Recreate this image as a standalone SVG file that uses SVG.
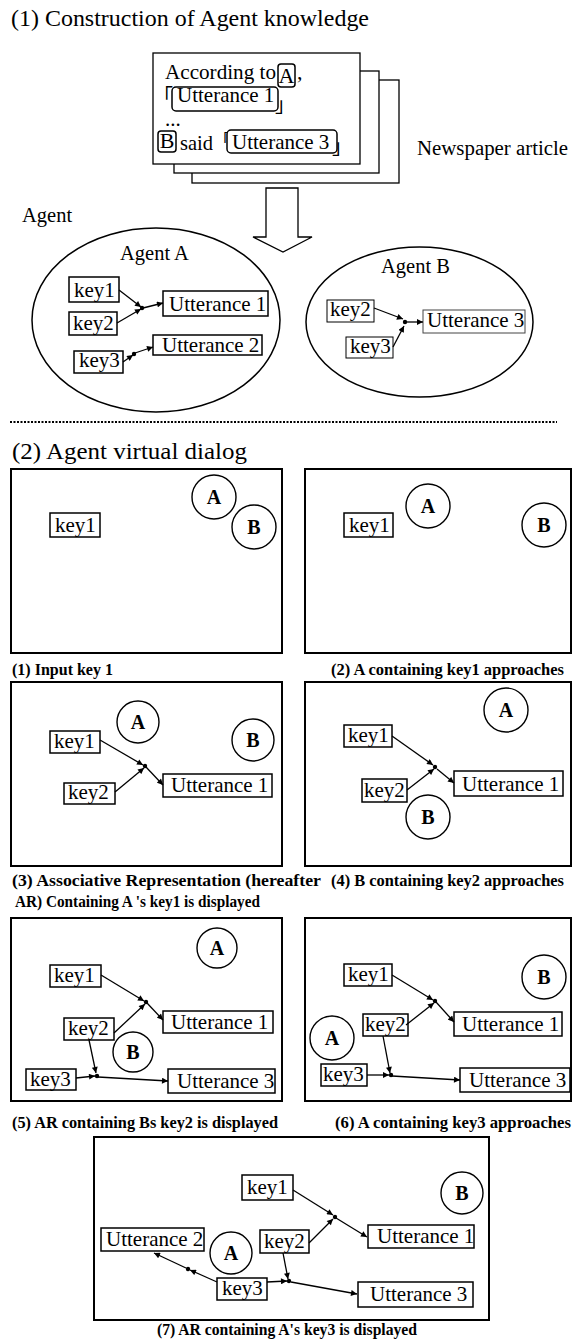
<svg xmlns="http://www.w3.org/2000/svg" width="573" height="1341" viewBox="0 0 573 1341">
<defs>
<marker id="ah" viewBox="0 0 10 10" refX="10" refY="5" markerWidth="7" markerHeight="6" markerUnits="userSpaceOnUse" orient="auto"><path d="M0,0 L10,5 L0,10 z" fill="#000"/></marker>
</defs>
<style>
text{font-family:"Liberation Serif","Times New Roman",serif;fill:#000}
.h{font-size:24px}
.t{font-size:21px}
.s{font-size:22px}
.cap{font-size:17px;font-weight:bold}
.c{font-size:20px;font-weight:bold;text-anchor:middle}
.box{fill:#fff;stroke:#000;stroke-width:1.5}
.pg{fill:#fff;stroke:#000;stroke-width:1.3}
.pan{fill:none;stroke:#000;stroke-width:2}
.cir{fill:#fff;stroke:#000;stroke-width:1.4}
.ell{fill:none;stroke:#000;stroke-width:1.5}
.ln{fill:none;stroke:#000;stroke-width:1.3;marker-end:url(#ah)}
.dot{fill:#000}
.br{font-family:"Noto Sans CJK JP",sans-serif;font-size:20px}
</style>
<rect width="573" height="1341" fill="#fff"/>

<!-- Section 1 -->
<text class="h" x="11" y="26" textLength="358" lengthAdjust="spacingAndGlyphs">(1) Construction of Agent knowledge</text>

<g id="newspaper">
<rect class="pg" x="192" y="80" width="207" height="103"/>
<rect class="pg" x="174" y="71" width="205" height="102"/>
<rect class="pg" x="153" y="53" width="207" height="111"/>
<text class="s" x="165" y="79" textLength="111" lengthAdjust="spacingAndGlyphs">According to</text>
<rect class="box" x="278" y="64" width="17" height="23" rx="3"/>
<text class="s" x="286.5" y="83" text-anchor="middle">A</text>
<text class="s" x="297" y="79">,</text>
<text class="br" x="153" y="104">「</text>
<rect class="box" x="172" y="87" width="106" height="24" rx="4"/>
<text class="t" x="177" y="102">Utterance 1</text>
<text class="br" x="275" y="112">」</text>
<text class="t" x="165" y="126">...</text>
<rect class="box" x="158" y="131" width="18" height="21" rx="3"/>
<text class="s" x="167" y="148" text-anchor="middle">B</text>
<text class="s" x="180" y="150" textLength="33" lengthAdjust="spacingAndGlyphs">said</text>
<text class="br" x="214" y="146" style="font-size:16px">「</text>
<rect class="box" x="227" y="130" width="110" height="23" rx="4"/>
<text class="t" x="232" y="149">Utterance 3</text>
<text class="br" x="332" y="154">」</text>
</g>
<text id="newspaper-label" x="417" y="155" style="font-size:20px" textLength="151" lengthAdjust="spacingAndGlyphs">Newspaper article</text>

<g id="big-arrow">
<polygon points="266,188 298,188 298,237 312,237 283,252 253,237 266,237" fill="#fff" stroke="#000" stroke-width="1.3"/>
</g>

<text id="agent-label" x="22" y="222" style="font-size:20.5px">Agent</text>

<g id="agentA">
<ellipse class="ell" cx="156" cy="320" rx="124" ry="92"/>
<text x="120" y="260" style="font-size:20.5px">Agent A</text>
<g id="A-key1"><rect class="box" x="69" y="277" width="50" height="25"/><text class="t" x="74" y="297">key1</text></g>
<g id="A-key2"><rect class="box" x="69" y="312" width="48" height="23"/><text class="t" x="73" y="330">key2</text></g>
<g id="A-key3"><rect class="box" x="74" y="351" width="49" height="22"/><text class="t" x="79" y="367">key3</text></g>
<g id="A-utt1"><rect class="box" x="163" y="291" width="105" height="25"/><text class="t" x="169" y="311">Utterance 1</text></g>
<g id="A-utt2"><rect class="box" x="153" y="335" width="109" height="20"/><text class="t" x="162" y="352">Utterance 2</text></g>
</g>

<g id="agentB">
<ellipse class="ell" cx="419.5" cy="322" rx="113.5" ry="75"/>
<text x="381" y="273" style="font-size:20.5px">Agent B</text>
<g id="B-key2"><rect class="box" x="327" y="300" width="47" height="22" style="stroke-width:1"/><text class="t" x="330" y="316">key2</text></g>
<g id="B-key3"><rect class="box" x="346" y="337" width="47" height="21" style="stroke-width:1"/><text class="t" x="350" y="353">key3</text></g>
<g id="B-utt3"><rect class="box" x="423" y="310" width="102" height="23" style="stroke-width:1;stroke:#444"/><text class="t" x="427" y="327">Utterance 3</text></g>
</g>

<line x1="10" y1="422" x2="557" y2="422" stroke="#000" stroke-width="2" stroke-dasharray="2,1.5"/>

<!-- Section 2 -->
<text class="h" x="12" y="459" textLength="235" lengthAdjust="spacingAndGlyphs">(2) Agent virtual dialog</text>

<g id="panel1">
<rect class="pan" x="11" y="469" width="271" height="184"/>
<circle class="cir" cx="214" cy="497" r="22"/><text class="c" x="214" y="504">A</text>
<circle class="cir" cx="254" cy="527" r="22"/><text class="c" x="254" y="534">B</text>
<rect class="box" x="50" y="513" width="50" height="24"/><text class="t" x="55" y="532">key1</text>
<text class="cap" x="12" y="675" textLength="101" lengthAdjust="spacingAndGlyphs">(1) Input key 1</text>
</g>

<g id="panel2">
<rect class="pan" x="305" y="469" width="266" height="184"/>
<circle class="cir" cx="428" cy="506" r="22"/><text class="c" x="428" y="513">A</text>
<circle class="cir" cx="544" cy="525" r="22"/><text class="c" x="544" y="532">B</text>
<rect class="box" x="344" y="513" width="49" height="24"/><text class="t" x="349" y="532">key1</text>
<text class="cap" x="331" y="675" textLength="233" lengthAdjust="spacingAndGlyphs">(2) A containing key1 approaches</text>
</g>

<g id="panel3">
<rect class="pan" x="11" y="682" width="271" height="184"/>
<circle class="cir" cx="138" cy="722" r="21"/><text class="c" x="138" y="729">A</text>
<circle class="cir" cx="253" cy="740" r="21"/><text class="c" x="253" y="747">B</text>
<rect class="box" x="50" y="731" width="50" height="22"/><text class="t" x="54" y="748">key1</text>
<rect class="box" x="64" y="783" width="51" height="21"/><text class="t" x="68" y="799">key2</text>
<rect class="box" x="163" y="774" width="109" height="23"/><text class="t" x="171" y="792">Utterance 1</text>
<text class="cap" x="12" y="886" textLength="309" lengthAdjust="spacingAndGlyphs">(3) Associative Representation (hereafter</text>
<text class="cap" x="15" y="907" textLength="245" lengthAdjust="spacingAndGlyphs">AR) Containing A 's key1 is displayed</text>
</g>

<g id="panel4">
<rect class="pan" x="305" y="682" width="266" height="184"/>
<circle class="cir" cx="506" cy="710" r="22"/><text class="c" x="506" y="717">A</text>
<circle class="cir" cx="428" cy="817" r="22"/><text class="c" x="428" y="824">B</text>
<rect class="box" x="344" y="725" width="48" height="22"/><text class="t" x="348" y="742">key1</text>
<rect class="box" x="362" y="779" width="45" height="23"/><text class="t" x="364" y="797">key2</text>
<rect class="box" x="454" y="771" width="109" height="25"/><text class="t" x="462" y="791">Utterance 1</text>
<text class="cap" x="331" y="886" textLength="233" lengthAdjust="spacingAndGlyphs">(4) B containing key2 approaches</text>
</g>

<g id="panel5">
<rect class="pan" x="11" y="918" width="271" height="183"/>
<circle class="cir" cx="217" cy="948" r="20"/><text class="c" x="217" y="955">A</text>
<circle class="cir" cx="133" cy="1052" r="20"/><text class="c" x="133" y="1059">B</text>
<rect class="box" x="50" y="965" width="51" height="22"/><text class="t" x="54" y="982">key1</text>
<rect class="box" x="64" y="1018" width="50" height="22"/><text class="t" x="68" y="1035">key2</text>
<rect class="box" x="163" y="1011" width="110" height="22"/><text class="t" x="171" y="1029">Utterance 1</text>
<rect class="box" x="26" y="1069" width="50" height="21"/><text class="t" x="30" y="1086">key3</text>
<rect class="box" x="168" y="1069" width="107" height="24"/><text class="t" x="177" y="1088">Utterance 3</text>
<text class="cap" x="12" y="1128" textLength="266" lengthAdjust="spacingAndGlyphs">(5) AR containing Bs key2 is displayed</text>
</g>

<g id="panel6">
<rect class="pan" x="305" y="918" width="266" height="183"/>
<circle class="cir" cx="544" cy="977" r="22"/><text class="c" x="544" y="984">B</text>
<circle class="cir" cx="332" cy="1038" r="22"/><text class="c" x="332" y="1045">A</text>
<rect class="box" x="344" y="964" width="48" height="22"/><text class="t" x="348" y="981">key1</text>
<rect class="box" x="363" y="1014" width="45" height="22"/><text class="t" x="365" y="1031">key2</text>
<rect class="box" x="454" y="1012" width="108" height="24"/><text class="t" x="462" y="1031">Utterance 1</text>
<rect class="box" x="321" y="1064" width="46" height="22"/><text class="t" x="323" y="1081">key3</text>
<rect class="box" x="460" y="1068" width="110" height="24"/><text class="t" x="469" y="1087">Utterance 3</text>
<text class="cap" x="335" y="1128" textLength="236" lengthAdjust="spacingAndGlyphs">(6) A containing key3 approaches</text>
</g>

<g id="panel7">
<rect class="pan" x="94" y="1137" width="395" height="183"/>
<circle class="cir" cx="462" cy="1193" r="21"/><text class="c" x="462" y="1200">B</text>
<circle class="cir" cx="231" cy="1253" r="21"/><text class="c" x="231" y="1260">A</text>
<rect class="box" x="242" y="1175" width="51" height="25"/><text class="t" x="247" y="1194">key1</text>
<rect class="box" x="101" y="1228" width="103" height="23"/><text class="t" x="106" y="1246">Utterance 2</text>
<rect class="box" x="260" y="1230" width="49" height="23"/><text class="t" x="264" y="1248">key2</text>
<rect class="box" x="368" y="1225" width="106" height="23"/><text class="t" x="377" y="1243">Utterance 1</text>
<rect class="box" x="217" y="1278" width="50" height="22"/><text class="t" x="222" y="1295">key3</text>
<rect class="box" x="358" y="1282" width="115" height="25"/><text class="t" x="370" y="1301">Utterance 3</text>
<text class="cap" x="157" y="1335" textLength="260" lengthAdjust="spacingAndGlyphs">(7) AR containing A's key3 is displayed</text>
</g>

<g id="connectors">
<!-- Agent A -->
<line class="ln" x1="119" y1="290" x2="141" y2="307"/>
<line class="ln" x1="117" y1="323" x2="141" y2="309"/>
<circle class="dot" cx="142" cy="308" r="2.2"/>
<line class="ln" x1="143" y1="308" x2="163" y2="303"/>
<line class="ln" x1="123" y1="362" x2="133" y2="355"/>
<circle class="dot" cx="134" cy="354" r="2.2"/>
<line class="ln" x1="135" y1="353" x2="153" y2="347"/>
<!-- Agent B -->
<line class="ln" x1="374" y1="308" x2="403" y2="319"/>
<line class="ln" x1="393" y1="347" x2="404" y2="326"/>
<circle class="dot" cx="405" cy="322" r="2.2"/>
<line class="ln" x1="407" y1="322" x2="423" y2="322"/>
<!-- Panel 3 -->
<line class="ln" x1="100" y1="740" x2="143" y2="765"/>
<line class="ln" x1="115" y1="792" x2="144" y2="768"/>
<circle class="dot" cx="145" cy="766" r="2.2"/>
<line class="ln" x1="146" y1="767" x2="163" y2="785"/>
<!-- Panel 4 -->
<line class="ln" x1="392" y1="736" x2="433" y2="765"/>
<line class="ln" x1="407" y1="790" x2="434" y2="769"/>
<circle class="dot" cx="435" cy="767" r="2.2"/>
<line class="ln" x1="437" y1="769" x2="454" y2="783"/>
<!-- Panel 5 -->
<line class="ln" x1="101" y1="975" x2="144" y2="1001"/>
<line class="ln" x1="114" y1="1033" x2="145" y2="1004"/>
<circle class="dot" cx="146" cy="1002" r="2.2"/>
<line class="ln" x1="147" y1="1003" x2="163" y2="1020"/>
<line class="ln" x1="89" y1="1040" x2="96" y2="1073"/>
<line class="ln" x1="76" y1="1078" x2="95" y2="1076"/>
<circle class="dot" cx="97" cy="1076" r="2.2"/>
<line class="ln" x1="98" y1="1077" x2="168" y2="1081"/>
<!-- Panel 6 -->
<line class="ln" x1="392" y1="975" x2="433" y2="1000"/>
<line class="ln" x1="406" y1="1025" x2="434" y2="1003"/>
<circle class="dot" cx="435" cy="1001" r="2.2"/>
<line class="ln" x1="436" y1="1002" x2="454" y2="1022"/>
<line class="ln" x1="383" y1="1036" x2="390" y2="1073"/>
<line class="ln" x1="367" y1="1075" x2="389" y2="1075"/>
<circle class="dot" cx="391" cy="1075" r="2.2"/>
<line class="ln" x1="392" y1="1076" x2="460" y2="1080"/>
<!-- Panel 7 -->
<line class="ln" x1="293" y1="1190" x2="333" y2="1215"/>
<line class="ln" x1="309" y1="1243" x2="333" y2="1219"/>
<circle class="dot" cx="335" cy="1217" r="2.2"/>
<line class="ln" x1="336" y1="1218" x2="367" y2="1237"/>
<line class="ln" x1="283" y1="1253" x2="288" y2="1279"/>
<line class="ln" x1="267" y1="1282" x2="287" y2="1281"/>
<circle class="dot" cx="289" cy="1281" r="2.2"/>
<line class="ln" x1="291" y1="1282" x2="357" y2="1294"/>
<line class="ln" x1="217" y1="1282" x2="190" y2="1270"/>
<circle class="dot" cx="188" cy="1269" r="2.2"/>
<line class="ln" x1="186" y1="1268" x2="154" y2="1253"/>
</g>
</svg>
